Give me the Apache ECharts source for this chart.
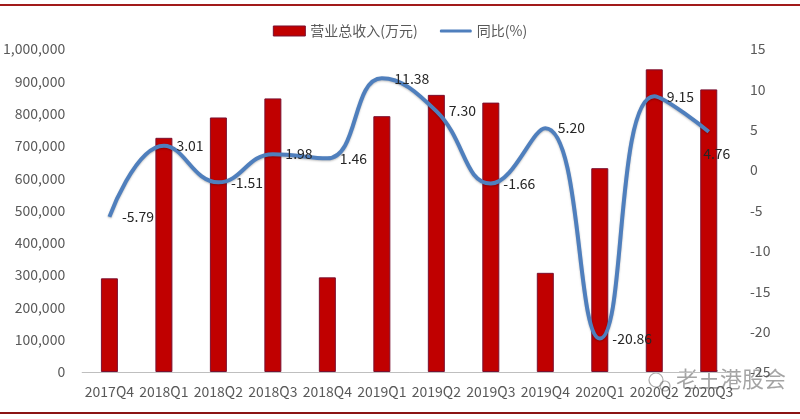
<!DOCTYPE html>
<html><head><meta charset="utf-8">
<script src="https://cdn.jsdelivr.net/npm/echarts@6/dist/echarts.min.js"></script>
<style>html,body{margin:0;padding:0;background:#fff}#c{width:800px;height:419px}</style>
</head><body><div id="c"></div>
<script>
var categories = ['2017Q4','2018Q1','2018Q2','2018Q3','2018Q4','2019Q1','2019Q2','2019Q3','2019Q4','2020Q1','2020Q2','2020Q3'];
var revenue = [290000, 725000, 788000, 847000, 293000, 792000, 858000, 834000, 307000, 631000, 937000, 875000];
var yoy = [-5.79, 3.01, -1.51, 1.98, 1.46, 11.38, 7.30, -1.66, 5.20, -20.86, 9.15, 4.76];
var revenueName = '营业总收入(万元)';
var yoyName = '同比(%)';

var chart = echarts.init(document.getElementById('c'), null, {renderer:'canvas'});
var font = '"Microsoft YaHei","Noto Sans CJK SC","DejaVu Sans",sans-serif';
var lineColor = '#4f7fbd';
var lineData = yoy.map(function(v, i){
  if (i === yoy.length - 1) return {value: v, label: {position: 'bottom', offset: [8, 2]}};
  return v;
});
chart.setOption({
  animation: false,
  textStyle: {fontFamily: font},
  legend: {
    top: 19, left: 'center',
    itemWidth: 32, itemHeight: 10, itemGap: 22,
    textStyle: {fontSize: 14, color: '#595959', fontFamily: font},
    data: [
      {name: revenueName, icon: 'rect', itemStyle: {color: '#c00000', borderColor: '#7a1030', borderWidth: 1}},
      {name: yoyName, icon: 'path://M0,0 L0,0 M1,3.5 L31,3.5 Q32,3.5 32,5 Q32,6.5 31,6.5 L1,6.5 Q0,6.5 0,5 Q0,3.5 1,3.5 Z M32,10 L32,10',
       itemStyle: {color: lineColor, borderWidth: 0}}
    ]
  },
  grid: {left: 80, right: 64, top: 49, bottom: 47, containLabel: false},
  xAxis: {
    type: 'category', data: categories,
    axisLine: {lineStyle: {color: '#bfbfbf', width: 1}},
    axisTick: {show: false},
    axisLabel: {fontSize: 14, color: '#595959', margin: 13, interval: 0, fontFamily: font}
  },
  yAxis: [{
    type: 'value', min: 0, max: 1000000, interval: 100000,
    splitLine: {show: false}, axisLine: {show: false}, axisTick: {show: false},
    axisLabel: {fontSize: 14, color: '#595959', margin: 17, fontFamily: font,
      formatter: function(v){ return v.toLocaleString('en-US'); }}
  }, {
    type: 'value', min: -25, max: 15, interval: 5,
    splitLine: {show: false}, axisLine: {show: false}, axisTick: {show: false},
    axisLabel: {fontSize: 14, color: '#595959', margin: 14, fontFamily: font}
  }],
  series: [{
    name: revenueName, type: 'bar', data: revenue, barWidth: 17,
    itemStyle: {color: '#c00000', borderColor: '#7a1030', borderWidth: 1}
  }, {
    name: yoyName, type: 'line', yAxisIndex: 1, data: lineData,
    smooth: 0.45, symbol: 'circle', symbolSize: 1, showSymbol: true, z: 5,
    lineStyle: {color: lineColor, width: 4, shadowColor: 'rgba(0,0,0,0.25)', shadowBlur: 2, shadowOffsetY: 1},
    itemStyle: {color: 'rgba(0,0,0,0)', borderWidth: 0},
    label: {show: true, position: 'right', distance: 12, fontSize: 14, color: '#262626', fontFamily: font,
      formatter: function(p){ return p.value.toFixed(2); }}
  }],
  graphic: [
    {type: 'rect', shape: {x: 0, y: 4, width: 800, height: 2}, style: {fill: '#a11a1a'}, silent: true},
    {type: 'rect', shape: {x: 0, y: 412, width: 800, height: 2}, style: {fill: '#8b1414'}, silent: true},
    {type: 'text', left: 676, top: 368, style: {text: '老王港股会', font: '22px ' + font, fill: 'rgba(90,90,90,0.55)'}, silent: true},
    {type: 'circle', shape: {cx: 656, cy: 380, r: 7}, style: {fill: 'none', stroke: 'rgba(90,90,90,0.5)', lineWidth: 1.2}, silent: true},
    {type: 'circle', shape: {cx: 665, cy: 386, r: 5}, style: {fill: 'none', stroke: 'rgba(90,90,90,0.5)', lineWidth: 1.2}, silent: true}
  ]
});
</script></body></html>
